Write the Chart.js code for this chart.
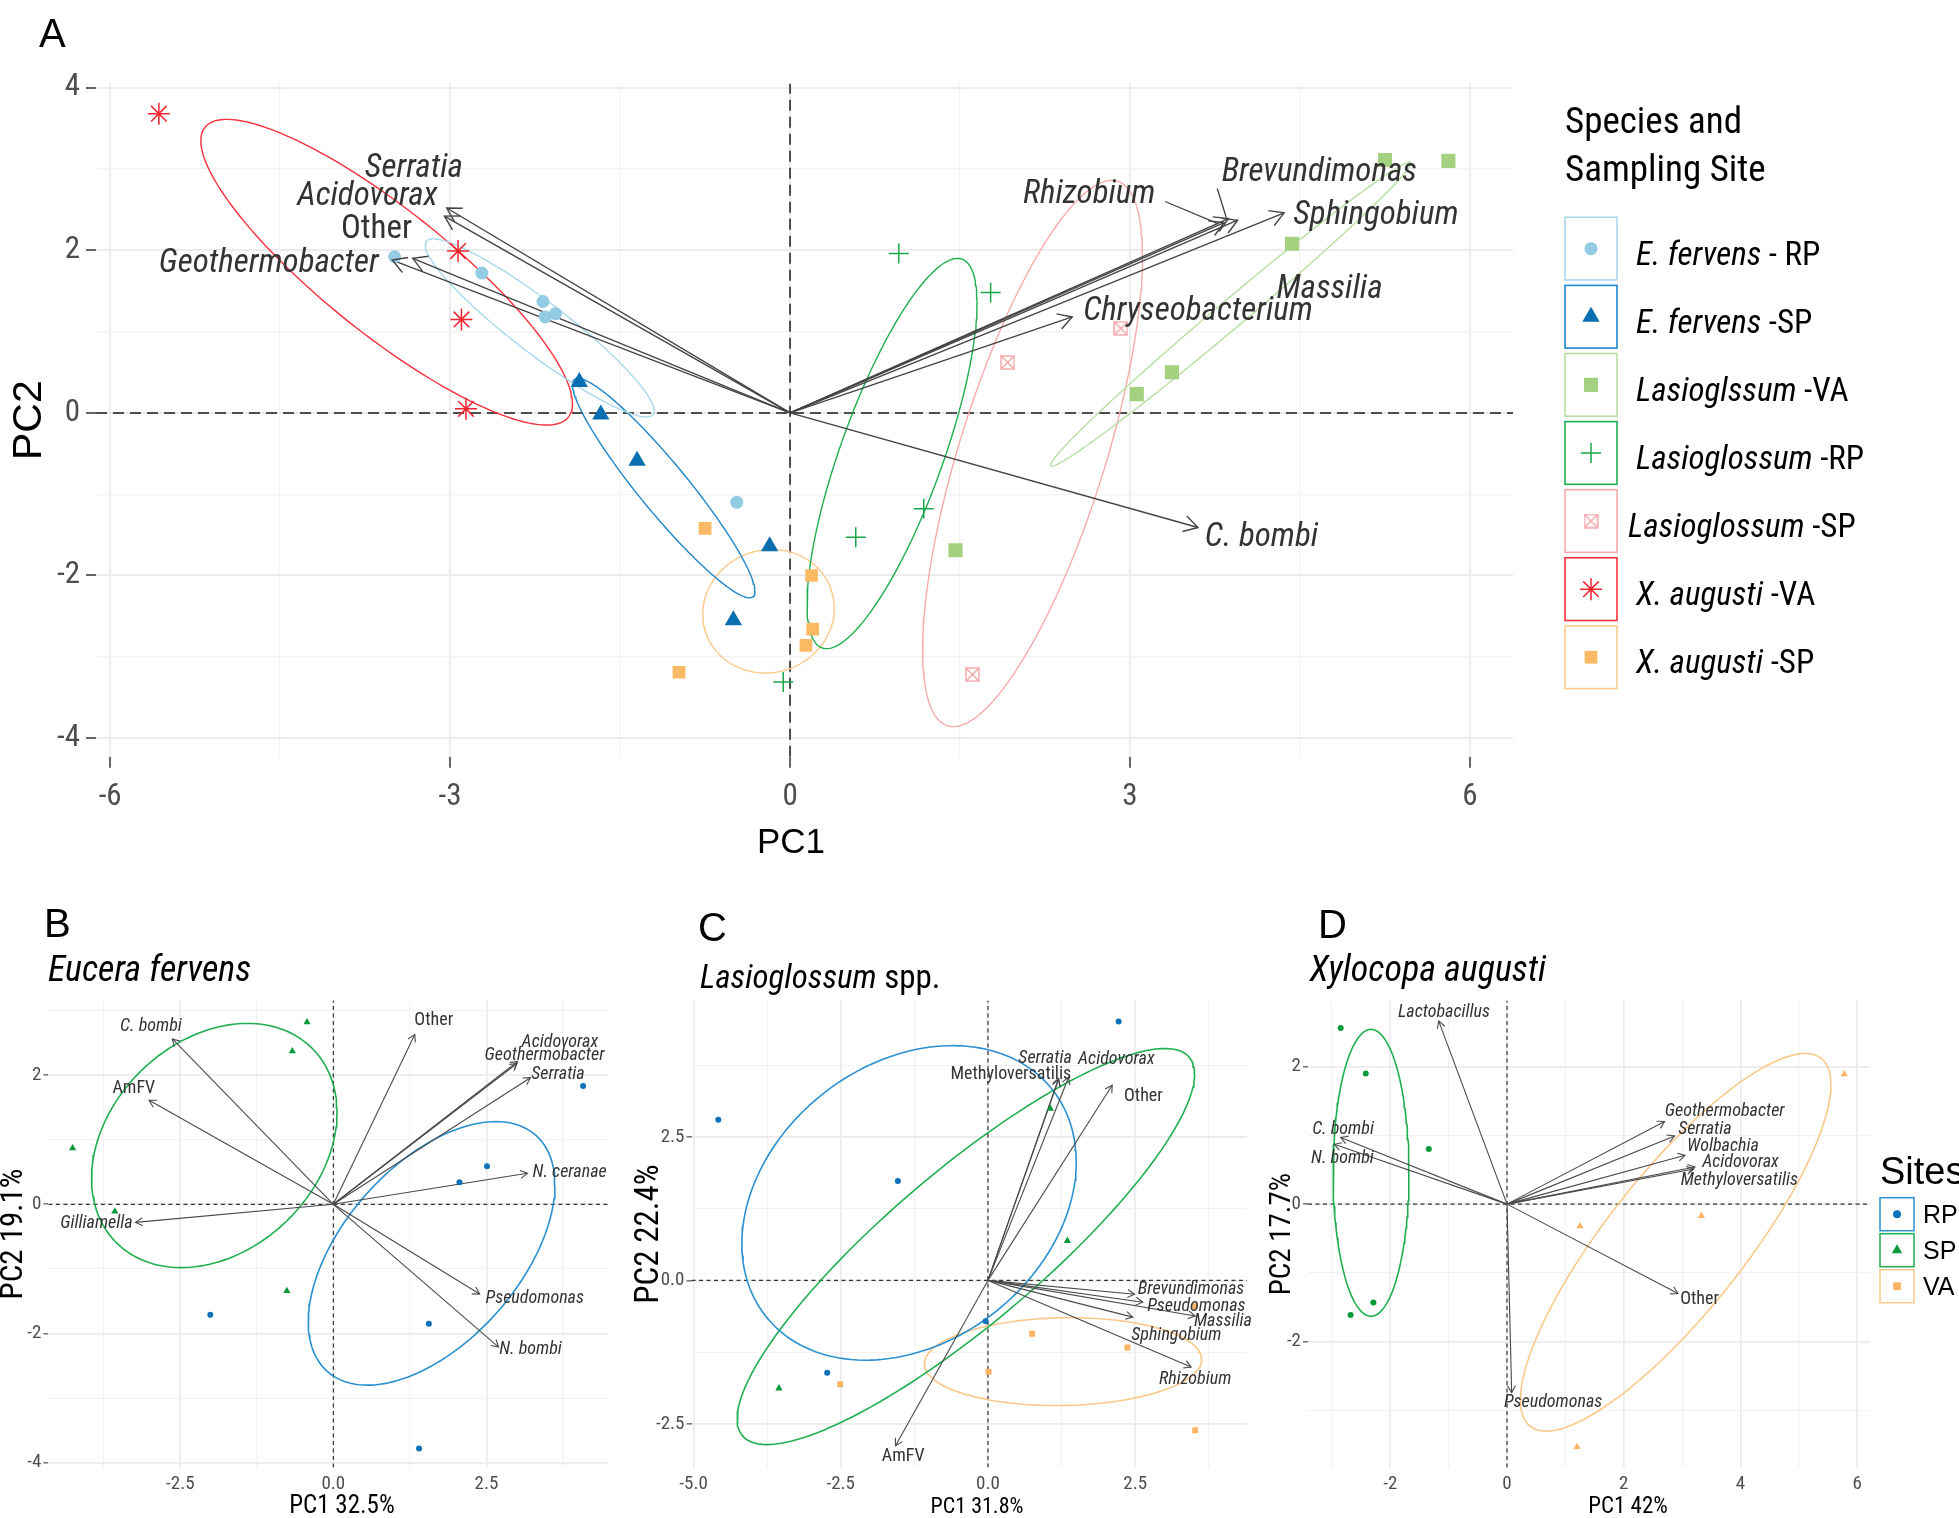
<!DOCTYPE html>
<html>
<head>
<meta charset="utf-8">
<title>PCA biplots of bee microbiota</title>
<script src="https://cdn.jsdelivr.net/npm/chart.js@4.4.1/dist/chart.umd.min.js"></script>
<style>
  html, body { margin: 0; padding: 0; background: #fff; }
  body { width: 1959px; height: 1518px; position: relative; overflow: hidden; }
  canvas { position: absolute; }
</style>
</head>
<body>
<canvas id="panelA"></canvas>
<canvas id="panelB"></canvas>
<canvas id="panelC"></canvas>
<canvas id="panelD"></canvas>
<script>
const NARROW = "'Liberation Sans Narrow', 'Arial Narrow', 'Roboto Condensed', 'DejaVu Sans Condensed', sans-serif";
const SANS = "'Liberation Sans', Arial, sans-serif";

// ---------- Panel A: all bees, scores by species and sampling site ----------
const efRP_x = [-3.49, -2.72, -2.18, -2.16, -2.07, -0.47];
const efRP_y = [1.92, 1.72, 1.37, 1.18, 1.22, -1.10];
const efSP_x = [-1.86, -1.67, -1.35, -0.18, -0.50];
const efSP_y = [0.38, -0.02, -0.59, -1.64, -2.55];
const lasVA_x = [5.25, 5.81, 4.43, 3.37, 3.06, 1.46];
const lasVA_y = [3.11, 3.10, 2.08, 0.50, 0.23, -1.69];
const lasRP_x = [0.96, 1.77, 1.18, 0.58, -0.06];
const lasRP_y = [1.96, 1.48, -1.18, -1.53, -3.31];
const lasSP_x = [2.92, 1.92, 1.61];
const lasSP_y = [1.04, 0.62, -3.22];
const xaVA_x = [-5.57, -2.93, -2.90, -2.86];
const xaVA_y = [3.68, 1.99, 1.15, 0.05];
const xaSP_x = [-0.75, -0.98, 0.19, 0.20, 0.14];
const xaSP_y = [-1.42, -3.19, -2.00, -2.66, -2.86];

// loadings (arrow tips) and label spots
const taxaA = ['Serratia', 'Acidovorax', 'Other', 'Geothermobacter', 'Rhizobium', 'Brevundimonas', 'Massilia', 'Sphingobium', 'Chryseobacterium', 'C. bombi'];
const loadA_x = [-3.03, -3.05, -3.33, -3.51, 3.83, 3.87, 3.95, 4.36, 2.49, 3.60];
const loadA_y = [2.52, 2.42, 1.90, 1.88, 2.34, 2.39, 2.37, 2.46, 1.18, -1.41];
const labA_x = [-3.32, -3.73, -3.65, -4.60, 2.64, 4.67, 4.76, 5.17, 3.60, 4.16];
const labA_y = [3.00, 2.66, 2.25, 1.83, 2.68, 2.95, 1.52, 2.43, 1.24, -1.54];
// repel segments (label -> arrow) for Rhizobium and Brevundimonas
const segA_x0 = [3.31, 3.77];
const segA_y0 = [2.60, 2.76];
const segA_x1 = [3.77, 3.85];
const segA_y1 = [2.33, 2.40];

// ellipses: centre, half-range in x and y, x-y correlation
const ellA_cx = [-2.21, -1.115, 3.89, 0.90, 2.14, -3.56, -0.19];
const ellA_cy = [1.045, -0.925, 1.215, -0.50, -0.50, 1.73, -2.44];
const ellA_rx = [1.01, 0.805, 1.59, 0.75, 0.97, 1.64, 0.58];
const ellA_ry = [1.095, 1.35, 1.87, 2.40, 3.36, 1.88, 0.76];
const ellA_r = [-0.93, -0.94, 0.993, 0.77, 0.72, -0.86, 0.05];

const ticksA_x = [-6, -4.5, -3, -1.5, 0, 1.5, 3, 4.5, 6];
const majorA_x = [-6, -3, 0, 3, 6];
const ticksA_y = [-4, -3, -2, -1, 0, 1, 2, 3, 4];
const majorA_y = [-4, -2, 0, 2, 4];

const legA_it = ['E. fervens', 'E. fervens', 'Lasioglssum', 'Lasioglossum', 'Lasioglossum', 'X. augusti', 'X. augusti'];
const legA_site = [' - RP', ' -SP', ' -VA', ' -RP', ' -SP', ' -VA', ' -SP'];
const colA_pt = ['#92cbe2', '#0a6fb0', '#a3d17f', '#17a74b', '#f59ea0', '#f7232d', '#fcb964'];
const colA_ell = ['#a9d9ee', '#1f87c9', '#b8dfa2', '#1fae50', '#f9abab', '#f7303c', '#fdca8c'];

// ---------- Panel B: Eucera fervens ----------
const bRP_x = [4.08, 2.51, 2.06, -2.01, 1.56, 1.40];
const bRP_y = [1.83, 0.59, 0.34, -1.71, -1.85, -3.78];
const bSP_x = [-0.43, -0.67, -4.26, -3.57, -0.76];
const bSP_y = [2.82, 2.37, 0.87, -0.11, -1.34];
const taxaB = ['C. bombi', 'AmFV', 'Gilliamella', 'Other', 'Acidovorax', 'Geothermobacter', 'Serratia', 'N. ceranae', 'Pseudomonas', 'N. bombi'];
const loadB_x = [-2.63, -3.01, -3.23, 1.33, 3.01, 3.00, 3.22, 3.17, 2.39, 2.70];
const loadB_y = [2.56, 1.61, -0.28, 2.63, 2.21, 2.18, 1.96, 0.48, -1.39, -2.21];
const labB_x = [-2.98, -3.26, -3.87, 1.64, 3.70, 3.45, 3.67, 3.86, 3.29, 3.22];
const labB_y = [2.76, 1.79, -0.30, 2.84, 2.51, 2.30, 2.01, 0.49, -1.46, -2.24];
const ellB_cx = [1.605, -1.945];
const ellB_cy = [-0.76, 0.91];
const ellB_rx = [2.015, 2.005];
const ellB_ry = [2.04, 1.89];
const ellB_r = [0.52, 0.27];
const ticksB_x = [-3.75, -2.5, -1.25, 0, 1.25, 2.5, 3.75];
const majorB_x = [-2.5, 0, 2.5];
const ticksB_y = [-4, -3, -2, -1, 0, 1, 2, 3];
const majorB_y = [-4, -2, 0, 2];

// ---------- Panel C: Lasioglossum spp. ----------
const cRP_x = [2.22, -4.58, -1.53, -0.04, -2.73];
const cRP_y = [4.51, 2.80, 1.73, -0.71, -1.61];
const cSP_x = [1.06, 1.35, -3.55];
const cSP_y = [2.99, 0.69, -1.88];
const cVA_x = [0.75, 2.37, 3.51, 0.01, -2.51, 3.52];
const cVA_y = [-0.93, -1.17, -0.45, -1.59, -1.81, -2.61];
const taxaC = ['Serratia', 'Acidovorax', 'Methyloversatilis', 'Other', 'Brevundimonas', 'Pseudomonas', 'Massilia', 'Sphingobium', 'Rhizobium', 'AmFV'];
const loadC_x = [1.20, 1.37, 1.20, 2.11, 2.49, 2.63, 3.52, 2.46, 3.45, -1.57];
const loadC_y = [3.52, 3.54, 3.50, 3.40, -0.24, -0.38, -0.62, -0.64, -1.51, -2.88];
const labC_x = [0.97, 2.18, 0.39, 2.64, 3.45, 3.54, 3.99, 3.20, 3.52, -1.44];
const labC_y = [3.87, 3.85, 3.59, 3.21, -0.16, -0.45, -0.71, -0.96, -1.72, -3.07];
const ellC_cx = [-1.34, -0.375, 1.275];
const ellC_cy = [1.35, 0.59, -1.415];
const ellC_rx = [2.84, 3.885, 2.355];
const ellC_ry = [2.74, 3.45, 0.765];
const ellC_r = [0.26, 0.87, 0.05];
const ticksC_x = [-5, -3.75, -2.5, -1.25, 0, 1.25, 2.5, 3.75];
const majorC_x = [-5, -2.5, 0, 2.5];
const ticksC_y = [-2.5, -1.25, 0, 1.25, 2.5, 3.75];
const majorC_y = [-2.5, 0, 2.5];

// ---------- Panel D: Xylocopa augusti ----------
const dSP_x = [-2.85, -2.42, -1.34, -2.29, -2.68];
const dSP_y = [2.56, 1.90, 0.80, -1.43, -1.61];
const dVA_x = [5.78, 3.33, 1.25, 1.20];
const dVA_y = [1.89, -0.17, -0.32, -3.53];
const taxaD = ['Lactobacillus', 'C. bombi', 'N. bombi', 'Geothermobacter', 'Serratia', 'Wolbachia', 'Acidovorax', 'Methyloversatilis', 'Other', 'Pseudomonas'];
const loadD_x = [-1.17, -2.85, -2.96, 2.70, 2.87, 3.05, 3.22, 3.20, 2.93, 0.08];
const loadD_y = [2.66, 0.97, 0.87, 1.20, 0.99, 0.71, 0.54, 0.51, -1.30, -2.74];
const labD_x = [-1.08, -2.81, -2.82, 3.73, 3.39, 3.70, 4.00, 3.98, 3.30, 0.79];
const labD_y = [2.79, 1.09, 0.66, 1.35, 1.09, 0.84, 0.61, 0.34, -1.38, -2.89];
const ellD_cx = [-2.33, 2.89];
const ellD_cy = [0.455, -0.555];
const ellD_rx = [0.65, 2.66];
const ellD_ry = [2.085, 2.745];
const ellD_r = [0.0, 0.835];
const ticksD_x = [-3, -2, -1, 0, 1, 2, 3, 4, 5, 6];
const majorD_x = [-2, 0, 2, 4, 6];
const ticksD_y = [-3, -2, -1, 0, 1, 2];
const majorD_y = [-2, 0, 2];

const sites = ['RP', 'SP', 'VA'];
const colSite_pt = ['#0b72b9', '#0a9a3a', '#fcb566'];
const colSite_ell = ['#2a90d0', '#1fae50', '#fdc98a'];

// ---------- helpers ----------
function pts(xs, ys) { return xs.map((x, i) => ({ x, y: ys[i] })); }

function ellipse(cx, cy, rx, ry, r) {
  const phi = Math.acos(r), out = [];
  for (let i = 0; i <= 160; i++) {
    const t = i / 160 * 2 * Math.PI;
    out.push({ x: cx + rx * Math.cos(t), y: cy + ry * Math.cos(t - phi) });
  }
  return out;
}

function boxCross(size, color) {
  const c = document.createElement('canvas');
  c.width = c.height = size;
  const g = c.getContext('2d');
  g.strokeStyle = color; g.lineWidth = 1.3;
  g.strokeRect(1, 1, size - 2, size - 2);
  g.beginPath();
  g.moveTo(1, 1); g.lineTo(size - 1, size - 1);
  g.moveTo(size - 1, 1); g.lineTo(1, size - 1);
  g.stroke();
  return c;
}

function place(id, left, top, w, h) {
  const c = document.getElementById(id);
  c.width = w; c.height = h;
  c.style.left = left + 'px'; c.style.top = top + 'px';
  c.style.width = w + 'px'; c.style.height = h + 'px';
  return c;
}

function lineSet(data, color, width, dash, head) {
  return { data, showLine: true, pointRadius: 0, borderColor: color, borderWidth: width,
           borderDash: dash || [], fill: false, head: head || 0 };
}

function axis(o) {
  const isMajor = c => c.tick && o.major.includes(c.tick.value);
  return {
    type: 'linear', min: o.min, max: o.max,
    afterBuildTicks: s => { s.ticks = o.ticks.map(v => ({ value: v })); },
    afterFit: s => { if (o.w !== undefined) s.width = o.w; if (o.h !== undefined) s.height = o.h; },
    ticks: { autoSkip: false, maxRotation: 0, minRotation: 0, padding: o.pad, color: '#4d4d4d',
             font: { size: o.fs, family: NARROW }, callback: v => o.major.includes(v) ? o.fmt(v) : '' },
    grid: {
      drawTicks: true, tickLength: o.tl,
      color: c => isMajor(c) ? o.gMajor : o.gMinor,
      lineWidth: c => isMajor(c) ? o.gwMajor : o.gwMinor,
      tickColor: c => (isMajor(c) && o.tickColor) ? o.tickColor : 'rgba(0,0,0,0)',
      tickWidth: o.tw || 1
    },
    border: { display: false },
    title: { display: !!o.title, text: o.title || '', color: '#000',
             font: { size: o.tfs, family: o.tfam || NARROW }, padding: o.tpad }
  };
}

function symbol(ctx, st, x, y) {
  ctx.save();
  ctx.fillStyle = st.backgroundColor;
  ctx.strokeStyle = st.borderColor;
  ctx.lineWidth = st.borderWidth || 0;
  Chart.helpers.drawPoint(ctx, { pointStyle: st.pointStyle, radius: st.pointRadius, rotation: 0,
                                 borderWidth: st.borderWidth || 0 }, x, y);
  ctx.restore();
}

function decor(cfg) {
  return {
    id: 'decor',
    afterDatasetsDraw(chart) {
      const ctx = chart.ctx, sx = chart.scales.x, sy = chart.scales.y;
      chart.data.datasets.forEach((ds, i) => {
        if (!ds.head) return;
        const m = chart.getDatasetMeta(i).data;
        const p0 = m[0], p1 = m[m.length - 1];
        const a = Math.atan2(p1.y - p0.y, p1.x - p0.x), L = ds.head;
        ctx.save();
        ctx.strokeStyle = ds.borderColor; ctx.lineWidth = ds.borderWidth;
        ctx.beginPath();
        ctx.moveTo(p1.x - L * Math.cos(a - Math.PI / 6), p1.y - L * Math.sin(a - Math.PI / 6));
        ctx.lineTo(p1.x, p1.y);
        ctx.lineTo(p1.x - L * Math.cos(a + Math.PI / 6), p1.y - L * Math.sin(a + Math.PI / 6));
        ctx.stroke();
        ctx.restore();
      });
      ctx.save();
      ctx.fillStyle = '#333';
      ctx.textAlign = 'center'; ctx.textBaseline = 'middle';
      cfg.names.forEach((t, i) => {
        const up = cfg.upright.includes(t);
        ctx.font = (up ? '' : 'italic ') + cfg.size + 'px ' + NARROW;
        ctx.fillText(t, sx.getPixelForValue(cfg.lx[i]), sy.getPixelForValue(cfg.ly[i]));
      });
      ctx.restore();
    },
    afterDraw(chart) {
      const ctx = chart.ctx, xt = cfg.xTitle;
      // x-axis title (ggplot places it slightly off the panel centre)
      ctx.save();
      ctx.fillStyle = '#000'; ctx.textAlign = 'center'; ctx.textBaseline = 'middle';
      ctx.font = xt.font;
      ctx.fillText(xt.text, xt.x, xt.y);
      ctx.restore();
      if (cfg.extra) cfg.extra(ctx);
    }
  };
}

function makeChart(canvas, datasets, x, y, padding, plugin) {
  return new Chart(canvas, {
    type: 'scatter',
    data: { datasets },
    options: {
      responsive: false, animation: false, devicePixelRatio: 1, events: [],
      layout: { padding },
      plugins: { legend: { display: false }, tooltip: { enabled: false } },
      scales: { x, y }
    },
    plugins: [plugin]
  });
}

function panelLetter(ctx, t, x, y) {
  ctx.save();
  ctx.fillStyle = '#000'; ctx.font = '40px ' + SANS;
  ctx.textBaseline = 'alphabetic'; ctx.textAlign = 'left';
  ctx.fillText(t, x, y);
  ctx.restore();
}

function subtitle(ctx, it, rest, x, y, size) {
  ctx.save();
  ctx.fillStyle = '#000'; ctx.textBaseline = 'alphabetic'; ctx.textAlign = 'left';
  ctx.font = 'italic ' + size + 'px ' + NARROW;
  ctx.fillText(it, x, y);
  const w = ctx.measureText(it).width;
  ctx.font = size + 'px ' + NARROW;
  if (rest) ctx.fillText(rest, x + w, y);
  ctx.restore();
}

// ===================== Panel A =====================
const styleA = [
  { pointStyle: 'circle', pointRadius: 6.5, backgroundColor: colA_pt[0], borderColor: colA_pt[0], borderWidth: 0 },
  { pointStyle: 'triangle', pointRadius: 10, backgroundColor: colA_pt[1], borderColor: colA_pt[1], borderWidth: 0 },
  { pointStyle: 'rect', pointRadius: 10, backgroundColor: colA_pt[2], borderColor: colA_pt[2], borderWidth: 0 },
  { pointStyle: 'cross', pointRadius: 10, backgroundColor: colA_pt[3], borderColor: colA_pt[3], borderWidth: 1.5 },
  { pointStyle: boxCross(15, colA_pt[4]), pointRadius: 7.5, backgroundColor: colA_pt[4], borderColor: colA_pt[4], borderWidth: 0 },
  { pointStyle: 'star', pointRadius: 11, backgroundColor: colA_pt[5], borderColor: colA_pt[5], borderWidth: 1.5 },
  { pointStyle: 'rect', pointRadius: 9, backgroundColor: colA_pt[6], borderColor: colA_pt[6], borderWidth: 0 }
];
const groupsA = [[efRP_x, efRP_y], [efSP_x, efSP_y], [lasVA_x, lasVA_y], [lasRP_x, lasRP_y],
                 [lasSP_x, lasSP_y], [xaVA_x, xaVA_y], [xaSP_x, xaSP_y]];
const A = { xmin: -6.125, xmax: 6.38, ymin: -4.23, ymax: 4.05 };

const dsA = [];
groupsA.forEach((g, i) => dsA.push(Object.assign({ data: pts(g[0], g[1]), showLine: false }, styleA[i])));
segA_x0.forEach((x, i) => dsA.push(lineSet([{ x, y: segA_y0[i] }, { x: segA_x1[i], y: segA_y1[i] }], '#444', 1.3)));
taxaA.forEach((t, i) => dsA.push(lineSet([{ x: 0, y: 0 }, { x: loadA_x[i], y: loadA_y[i] }], '#444', 1.4, null, 16)));
ellA_cx.forEach((c, i) => dsA.push(lineSet(ellipse(c, ellA_cy[i], ellA_rx[i], ellA_ry[i], ellA_r[i]), colA_ell[i], 1.4)));
dsA.push(lineSet([{ x: A.xmin, y: 0 }, { x: A.xmax, y: 0 }], '#1a1a1a', 1.5, [11, 6]));
dsA.push(lineSet([{ x: 0, y: A.ymin }, { x: 0, y: A.ymax }], '#1a1a1a', 1.5, [11, 6]));

function legendA(ctx) {
  panelLetter(ctx, 'A', 39, 47);
  ctx.save();
  ctx.fillStyle = '#000'; ctx.textAlign = 'left'; ctx.textBaseline = 'alphabetic';
  ctx.font = '37px ' + NARROW;
  ctx.fillText('Species and', 1565, 133);
  ctx.fillText('Sampling Site', 1565, 181);
  legA_it.forEach((it, i) => {
    const top = 217.3 + i * 68.1, cy = top + 31.35;
    ctx.strokeStyle = colA_ell[i]; ctx.lineWidth = 1.6;
    ctx.strokeRect(1565, top, 52, 62.7);
    symbol(ctx, styleA[i], 1591, cy);
    const x0 = i === 4 ? 1628 : 1636;
    ctx.fillStyle = '#000';
    ctx.font = 'italic 33px ' + NARROW;
    ctx.fillText(it, x0, cy + 16);
    const w = ctx.measureText(it).width;
    ctx.font = '33px ' + NARROW;
    ctx.fillText(legA_site[i], x0 + w, cy + 16);
  });
  ctx.restore();
}

makeChart(place('panelA', 0, 0, 1959, 880), dsA,
  axis({ min: A.xmin, max: A.xmax, ticks: ticksA_x, major: majorA_x, fmt: v => String(v), h: 110,
         tl: 11, pad: 11, fs: 31, tickColor: '#333', tw: 1.5, gMajor: '#ececec', gMinor: '#f3f3f3',
         gwMajor: 2, gwMinor: 1.3 }),
  axis({ min: A.ymin, max: A.ymax, ticks: ticksA_y, major: majorA_y, fmt: v => String(v), w: 96,
         tl: 10, pad: 6, fs: 31, tickColor: '#333', tw: 1.5, gMajor: '#ececec', gMinor: '#f3f3f3',
         gwMajor: 2, gwMinor: 1.3, title: 'PC2', tfs: 41, tfam: SANS, tpad: { top: 5.5, bottom: 0 } }),
  { top: 83.6, left: 0, right: 446, bottom: 13.2 },
  decor({ names: taxaA, lx: labA_x, ly: labA_y, size: 33, upright: ['Other'], extra: legendA,
          xTitle: { text: 'PC1', x: 791, y: 843, font: '35px ' + SANS } }));

// ===================== Panels B-D =====================
function siteStyle(k, shape, r) {
  return { pointStyle: shape, pointRadius: r, backgroundColor: colSite_pt[k], borderColor: colSite_pt[k], borderWidth: 0 };
}

function smallPanel(id, left, w, P, groups, taxa, lx, ly, loadX, loadY, ell, xo, yo, right, upright, extra) {
  const ds = [];
  groups.forEach(g => ds.push(Object.assign({ data: pts(g.x, g.y), showLine: false }, g.style)));
  taxa.forEach((t, i) => ds.push(lineSet([{ x: 0, y: 0 }, { x: loadX[i], y: loadY[i] }], '#4a4a4a', 1.1, null, 8)));
  ell.cx.forEach((c, i) => ds.push(lineSet(ellipse(c, ell.cy[i], ell.rx[i], ell.ry[i], ell.r[i]), ell.col[i], 1.6)));
  ds.push(lineSet([{ x: P.xmin, y: 0 }, { x: P.xmax, y: 0 }], '#333', 1.2, [4, 3.5]));
  ds.push(lineSet([{ x: 0, y: P.ymin }, { x: 0, y: P.ymax }], '#333', 1.2, [4, 3.5]));
  const common = { gMajor: '#ebebeb', gMinor: '#f2f2f2', gwMajor: 1.7, gwMinor: 1.1, fs: 19 };
  makeChart(place(id, left, 880, w, 650), ds,
    axis(Object.assign({ min: P.xmin, max: P.xmax, ticks: xo.ticks, major: xo.major, fmt: xo.fmt, h: 62.4,
                         tl: 4, pad: 1 }, common)),
    axis(Object.assign({ min: P.ymin, max: P.ymax, ticks: yo.ticks, major: yo.major, fmt: yo.fmt, w: yo.w,
                         tl: 5, pad: 2, tickColor: '#4d4d4d', tw: 1.2, title: yo.title, tfs: yo.tfs,
                         tpad: { top: yo.tpad, bottom: 0 } }, common)),
    { top: 120.5, left: 0, right, bottom: 0 },
    decor({ names: taxa, lx, ly, size: 18, upright, extra,
            xTitle: { text: xo.title, x: xo.tx, y: 627, font: xo.tfs + 'px ' + NARROW } }));
}

smallPanel('panelB', 0, 640, { xmin: -4.655, xmax: 4.49, ymin: -4.076, ymax: 3.155 },
  [{ x: bRP_x, y: bRP_y, style: siteStyle(0, 'circle', 3) },
   { x: bSP_x, y: bSP_y, style: siteStyle(1, 'triangle', 4.2) }],
  taxaB, labB_x, labB_y, loadB_x, loadB_y,
  { cx: ellB_cx, cy: ellB_cy, rx: ellB_rx, ry: ellB_ry, r: ellB_r, col: [colSite_ell[0], colSite_ell[1]] },
  { ticks: ticksB_x, major: majorB_x, fmt: v => v.toFixed(1), title: 'PC1 32.5%', tx: 342, tfs: 25 },
  { ticks: ticksB_y, major: majorB_y, fmt: v => String(v), w: 48.4, title: 'PC2 19.1%', tfs: 31, tpad: -4.2 },
  31.8, ['AmFV', 'Other'],
  ctx => { panelLetter(ctx, 'B', 44, 57); subtitle(ctx, 'Eucera fervens', '', 48, 101, 36); });

smallPanel('panelC', 630, 640, { xmin: -5.035, xmax: 4.40, ymin: -3.261, ymax: 4.876 },
  [{ x: cRP_x, y: cRP_y, style: siteStyle(0, 'circle', 3) },
   { x: cSP_x, y: cSP_y, style: siteStyle(1, 'triangle', 4.2) },
   { x: cVA_x, y: cVA_y, style: siteStyle(2, 'rect', 4.2) }],
  taxaC, labC_x, labC_y, loadC_x, loadC_y,
  { cx: ellC_cx, cy: ellC_cy, rx: ellC_rx, ry: ellC_ry, r: ellC_r, col: colSite_ell },
  { ticks: ticksC_x, major: majorC_x, fmt: v => v.toFixed(1), title: 'PC1 31.8%', tx: 347, tfs: 22 },
  { ticks: ticksC_y, major: majorC_y, fmt: v => v.toFixed(1), w: 61.5, title: 'PC2 22.4%', tfs: 33, tpad: 0 },
  23, ['AmFV', 'Other', 'Methyloversatilis'],
  ctx => { panelLetter(ctx, 'C', 68, 61); subtitle(ctx, 'Lasioglossum', ' spp.', 70, 107.5, 33); });

function legendD(ctx) {
  panelLetter(ctx, 'D', 68, 58);
  subtitle(ctx, 'Xylocopa augusti', '', 59.5, 101, 36);
  ctx.save();
  ctx.fillStyle = '#000'; ctx.textAlign = 'left'; ctx.textBaseline = 'alphabetic';
  ctx.font = '38px ' + SANS;
  ctx.fillText('Sites', 630, 304);
  const shapes = [siteStyle(0, 'circle', 4), siteStyle(1, 'triangle', 6), siteStyle(2, 'rect', 5.5)];
  sites.forEach((s, i) => {
    const top = 317.7 + i * 36, cy = top + 16.5;
    ctx.strokeStyle = colSite_ell[i]; ctx.lineWidth = 1.5;
    ctx.strokeRect(630, top, 34, 33);
    symbol(ctx, shapes[i], 647, cy);
    ctx.fillStyle = '#000'; ctx.font = '25px ' + SANS;
    ctx.fillText(s, 673, cy + 9);
  });
  ctx.restore();
}

smallPanel('panelD', 1250, 709, { xmin: -3.41, xmax: 6.22, ymin: -3.83, ymax: 2.96 },
  [{ x: dSP_x, y: dSP_y, style: siteStyle(1, 'circle', 3) },
   { x: dVA_x, y: dVA_y, style: siteStyle(2, 'triangle', 4.2) }],
  taxaD, labD_x, labD_y, loadD_x, loadD_y,
  { cx: ellD_cx, cy: ellD_cy, rx: ellD_rx, ry: ellD_ry, r: ellD_r, col: [colSite_ell[1], colSite_ell[2]] },
  { ticks: ticksD_x, major: majorD_x, fmt: v => String(v), title: 'PC1 42%', tx: 378, tfs: 23 },
  { ticks: ticksD_y, major: majorD_y, fmt: v => String(v), w: 58, title: 'PC2 17.7%', tfs: 29, tpad: 15.6 },
  89, ['Other'], legendD);
</script>
</body>
</html>
